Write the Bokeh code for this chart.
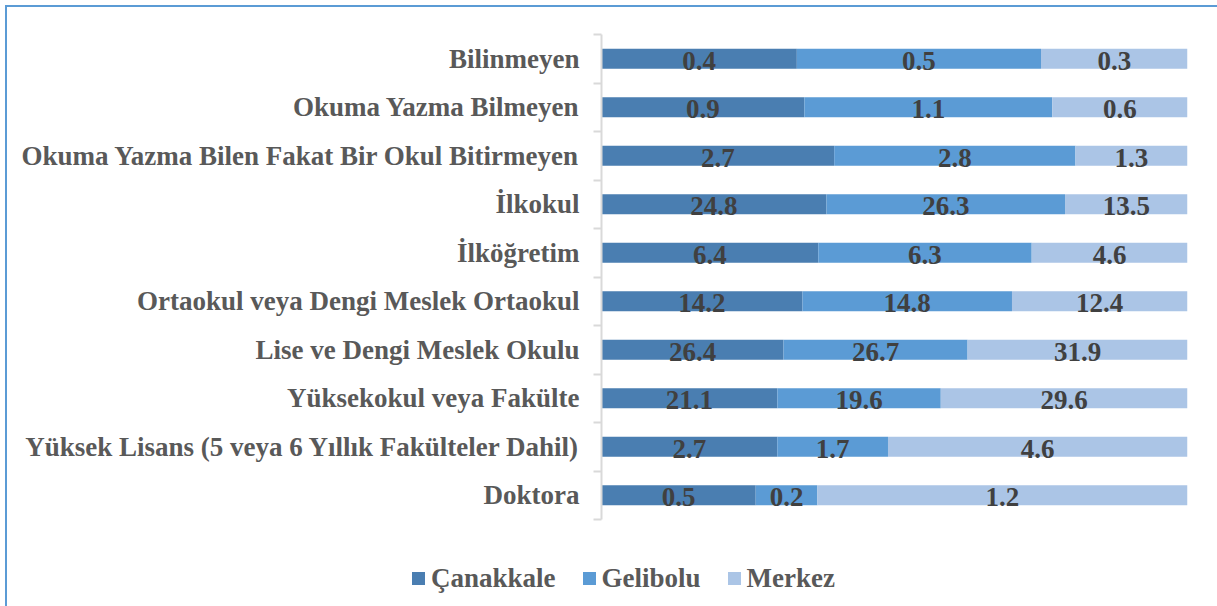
import numpy as np
from bokeh.plotting import figure
from bokeh.layouts import column
from bokeh.models import ColumnDataSource, Range1d, FixedTicker, Div
from bokeh.core.properties import value
from bokeh.embed import file_html
from bokeh.resources import INLINE

categories = [
    "Bilinmeyen",
    "Okuma Yazma Bilmeyen",
    "Okuma Yazma Bilen Fakat Bir Okul Bitirmeyen",
    "İlkokul",
    "İlköğretim",
    "Ortaokul veya Dengi Meslek Ortaokul",
    "Lise ve Dengi Meslek Okulu",
    "Yüksekokul veya Fakülte",
    "Yüksek Lisans (5 veya 6 Yıllık Fakülteler Dahil)",
    "Doktora",
]
canakkale = [0.4, 0.9, 2.7, 24.8, 6.4, 14.2, 26.4, 21.1, 2.7, 0.5]
gelibolu = [0.5, 1.1, 2.8, 26.3, 6.3, 14.8, 26.7, 19.6, 1.7, 0.2]
merkez = [0.3, 0.6, 1.3, 13.5, 4.6, 12.4, 31.9, 29.6, 4.6, 1.2]

series_names = ["Çanakkale", "Gelibolu", "Merkez"]
series_vals = [canakkale, gelibolu, merkez]
colors = ["#4a7eb1", "#5b9bd5", "#abc5e6"]

FONT = "Liberation Serif"
n = len(categories)
ypos = np.arange(n)[::-1].astype(float)  # first category at top

vals = np.array(series_vals, dtype=float)
totals = vals.sum(axis=0)
shares = vals / totals
lefts = np.vstack([np.zeros(n), np.cumsum(shares, axis=0)[:-1]])
rights = lefts + shares

p = figure(width=1217, height=540, output_backend="svg", toolbar_location=None,
           x_range=Range1d(0, 1), y_range=Range1d(-0.5, n - 0.5),
           x_axis_location=None,
           min_border_left=601, min_border_right=30, min_border_top=34,
           min_border_bottom=21)
p.outline_line_color = None
p.border_fill_alpha = 0
p.background_fill_alpha = 0
p.xgrid.visible = False
p.ygrid.visible = False

for k in range(3):
    src = ColumnDataSource(dict(y=ypos, left=lefts[k], right=rights[k],
                                mid=(lefts[k] + rights[k]) / 2,
                                lab=[f"{v:.1f}" for v in vals[k]]))
    p.hbar(y="y", left="left", right="right", height=0.41, source=src,
           fill_color=colors[k], line_color=None, legend_label=series_names[k])
    p.text(x="mid", y="y", text="lab", source=src, text_align="center",
           text_baseline="middle", text_font=value(FONT), text_font_style="bold",
           text_font_size="27px", text_color="#404040", y_offset=2)
# the in-plot legend would be clipped by the frame; the legend is drawn below instead
p.legend.visible = False

ax = p.yaxis[0]
ax.ticker = FixedTicker(ticks=list(ypos), minor_ticks=list(np.arange(n + 1) - 0.5))
ax.major_label_overrides = {int(y): c for y, c in zip(ypos, categories)}
ax.major_tick_line_color = None
ax.major_tick_out = 0
ax.major_tick_in = 0
ax.minor_tick_line_color = "#d9d9d9"
ax.minor_tick_line_width = 2
ax.minor_tick_out = 8
ax.minor_tick_in = 0
ax.axis_line_color = "#d9d9d9"
ax.axis_line_width = 2
ax.major_label_standoff = 14
ax.major_label_text_font = FONT
ax.major_label_text_font_style = "bold"
ax.major_label_text_font_size = "27px"
ax.major_label_text_color = "#595959"

items_html = "".join(
    f'<span style="display:inline-flex;align-items:center;margin-right:27px;">'
    f'<span style="display:inline-block;width:13px;height:13px;background:{c};margin-right:6px;"></span>'
    f'<span>{nm}</span></span>'
    for nm, c in zip(series_names, colors)
)
legend_div = Div(
    text=f'<div style="display:flex;align-items:center;height:66px;padding-left:407px;'
         f'font-family:\'{FONT}\';font-weight:bold;font-size:27px;color:#595959;'
         f'line-height:1;white-space:nowrap;">{items_html}</div>',
    width=1217, height=66,
)

layout = column(p, legend_div, spacing=0)
layout.styles = {"box-shadow": "inset 0 0 0 5px white, inset 0 0 0 7px #5b9bd5",
                 "background-color": "white"}

open("out.html", "w").write(file_html(layout, INLINE))
